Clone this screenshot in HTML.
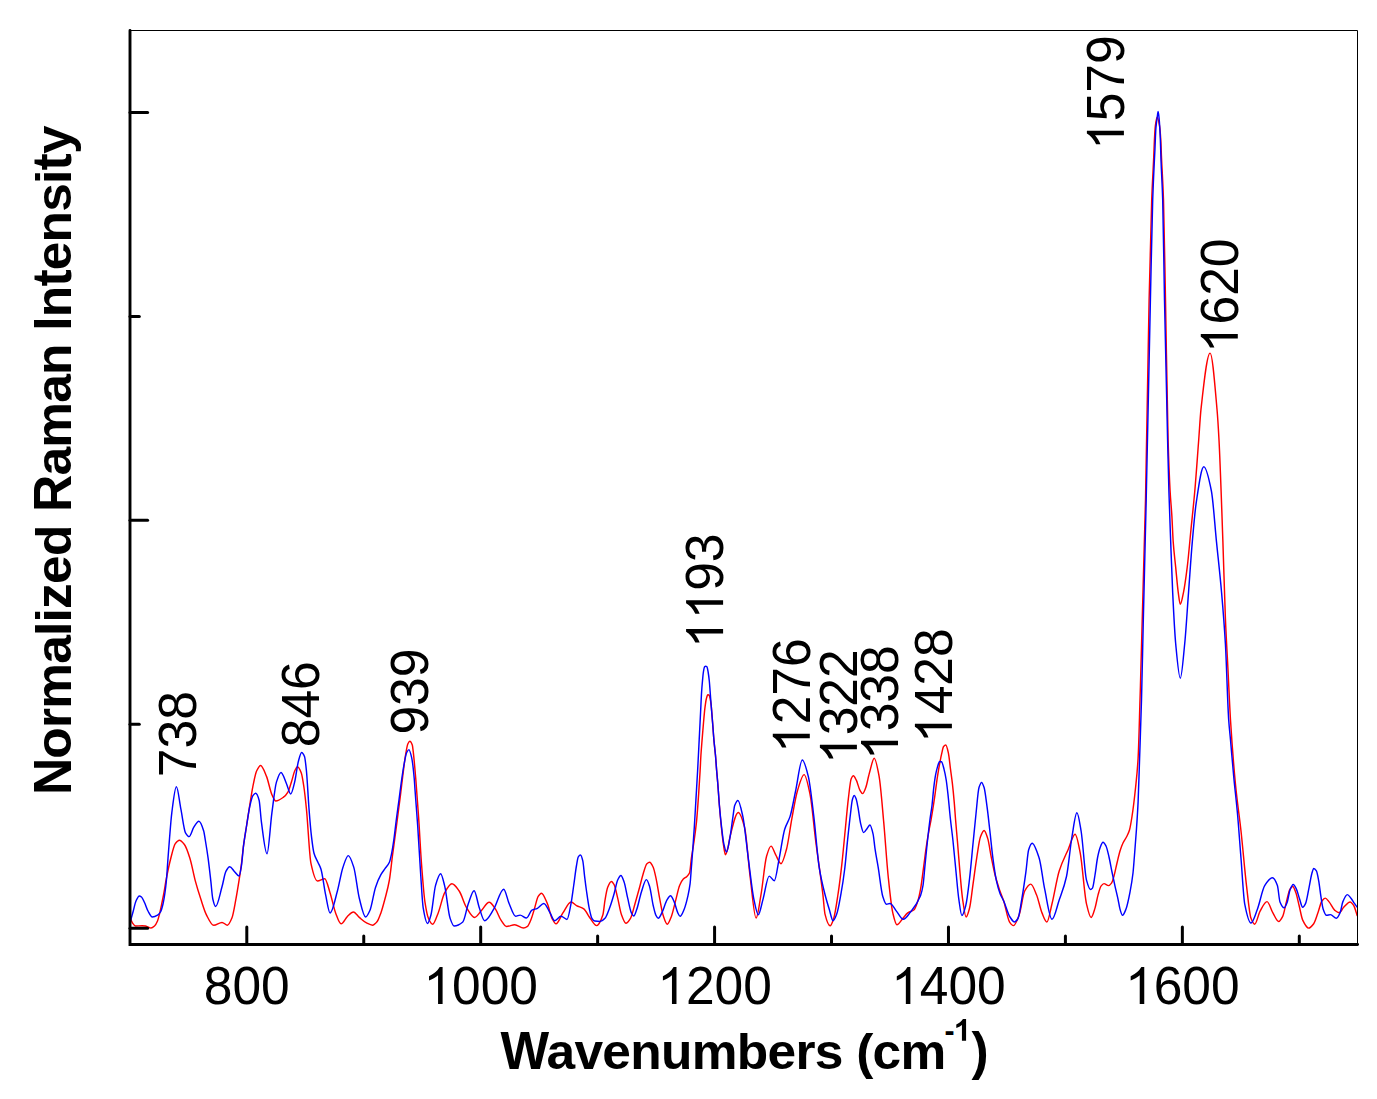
<!DOCTYPE html>
<html><head><meta charset="utf-8"><style>html,body{margin:0;padding:0;background:#fff;}svg{display:block;}</style></head>
<body>
<svg width="1377" height="1099" viewBox="0 0 1377 1099">
<rect width="1377" height="1099" fill="#fff"/>
<path d="M130.30 918.00C131.03 919.67 131.77 921.96 132.50 923.00C133.50 924.42 134.50 926.00 135.50 926.00C137.67 926.00 139.83 925.80 142.00 925.80C143.17 925.80 144.33 925.88 145.50 926.00C146.33 926.09 147.17 926.70 148.00 927.00C149.00 927.36 150.00 928.00 151.00 928.00C152.17 928.00 153.33 927.01 154.50 926.00C155.50 925.14 156.50 923.31 157.50 921.00C158.17 919.46 158.83 916.64 159.50 914.00C160.33 910.70 161.17 906.50 162.00 902.50C162.67 899.30 163.33 896.14 164.00 892.50C164.67 888.86 165.33 884.05 166.00 880.50C167.60 871.97 169.20 864.30 170.80 858.20C172.30 852.48 173.80 845.56 175.30 843.60C176.67 841.81 178.03 840.20 179.40 840.20C181.07 840.20 182.73 842.39 184.40 844.50C186.23 846.83 188.07 852.46 189.90 858.20C191.70 863.84 193.50 874.23 195.30 880.90C197.13 887.69 198.97 893.52 200.80 899.10C202.63 904.68 204.47 911.04 206.30 914.60C208.77 919.39 211.23 925.30 213.70 925.30C216.47 925.30 219.23 922.40 222.00 922.40C223.80 922.40 225.60 925.20 227.40 925.20C228.93 925.20 230.47 921.54 232.00 917.80C233.30 914.63 234.60 906.12 235.90 899.20C236.93 893.70 237.97 887.26 239.00 880.70C239.77 875.83 240.53 871.03 241.30 865.20C242.07 859.37 242.83 850.85 243.60 845.10C244.63 837.35 245.67 831.70 246.70 825.00C247.73 818.30 248.77 811.34 249.80 804.90C250.83 798.46 251.87 791.35 252.90 786.30C254.17 780.11 255.43 773.42 256.70 770.80C258.00 768.11 259.30 765.40 260.60 765.40C262.57 765.40 264.53 771.66 266.50 776.40C268.30 780.74 270.10 790.70 271.90 794.60C273.20 797.42 274.50 801.00 275.80 801.00C278.37 801.00 280.93 799.04 283.50 797.20C284.97 796.15 286.43 794.56 287.90 792.10C289.20 789.92 290.50 784.73 291.80 780.70C292.83 777.49 293.87 772.57 294.90 770.50C295.77 768.77 296.63 766.70 297.50 766.70C298.77 766.70 300.03 769.68 301.30 773.00C302.17 775.27 303.03 781.23 303.90 787.00C304.73 792.55 305.57 800.45 306.40 808.70C307.93 823.88 309.47 856.70 311.00 863.70C313.13 873.44 315.27 881.00 317.40 881.00C319.83 881.00 322.27 878.70 324.70 878.70C326.50 878.70 328.30 887.41 330.10 892.90C331.93 898.49 333.77 908.20 335.60 912.90C337.43 917.60 339.27 923.80 341.10 923.80C343.20 923.80 345.30 918.41 347.40 916.50C349.40 914.68 351.40 912.00 353.40 912.00C355.37 912.00 357.33 915.76 359.30 917.40C361.70 919.40 364.10 921.69 366.50 922.90C368.50 923.91 370.50 925.20 372.50 925.20C374.00 925.20 375.50 923.52 377.00 921.80C378.30 920.31 379.60 916.46 380.90 912.90C382.27 909.16 383.63 904.00 385.00 898.80C386.47 893.22 387.93 888.28 389.40 880.00C390.47 873.98 391.53 862.73 392.60 854.60C393.47 848.00 394.33 841.99 395.20 835.50C396.03 829.26 396.87 822.77 397.70 816.40C398.53 810.03 399.37 803.93 400.20 797.30C401.07 790.40 401.93 782.60 402.80 775.70C403.63 769.07 404.47 761.60 405.30 756.60C406.17 751.40 407.03 745.55 407.90 743.80C408.53 742.52 409.17 741.30 409.80 741.30C410.63 741.30 411.47 742.79 412.30 745.10C412.60 745.93 412.90 748.94 413.20 751.40C414.10 758.78 415.00 769.72 415.90 780.50C416.80 791.28 417.70 803.64 418.60 816.90C419.53 830.65 420.47 849.98 421.40 862.40C422.60 878.36 423.80 894.61 425.00 902.40C426.17 909.98 427.33 915.94 428.50 918.50C429.87 921.50 431.23 924.30 432.60 924.30C434.47 924.30 436.33 917.48 438.20 912.90C440.33 907.67 442.47 896.74 444.60 892.90C447.03 888.52 449.47 883.80 451.90 883.80C454.33 883.80 456.77 887.65 459.20 891.00C461.60 894.31 464.00 903.56 466.40 907.40C469.13 911.77 471.87 917.40 474.60 917.40C476.73 917.40 478.87 913.29 481.00 911.10C483.73 908.30 486.47 902.30 489.20 902.30C491.30 902.30 493.40 906.21 495.50 909.20C497.33 911.81 499.17 917.53 501.00 920.20C502.83 922.87 504.67 926.50 506.50 926.50C509.23 926.50 511.97 924.70 514.70 924.70C517.63 924.70 520.57 928.00 523.50 928.00C524.83 928.00 526.17 927.24 527.50 926.30C528.73 925.43 529.97 922.01 531.20 919.00C532.33 916.23 533.47 911.86 534.60 908.20C535.80 904.33 537.00 898.22 538.20 896.40C539.27 894.78 540.33 893.20 541.40 893.20C543.40 893.20 545.40 899.21 547.40 903.80C548.93 907.32 550.47 915.39 552.00 918.30C553.33 920.83 554.67 923.80 556.00 923.80C558.30 923.80 560.60 916.23 562.90 912.90C565.63 908.94 568.37 902.00 571.10 902.00C572.90 902.00 574.70 904.62 576.50 905.60C578.93 906.92 581.37 907.20 583.80 908.90C585.93 910.39 588.07 915.54 590.20 918.30C592.30 921.02 594.40 925.60 596.50 925.60C598.63 925.60 600.77 921.20 602.90 914.70C603.60 912.57 604.30 904.08 605.00 900.10C605.90 894.99 606.80 889.50 607.70 887.30C608.93 884.28 610.17 881.40 611.40 881.40C612.30 881.40 613.20 883.02 614.10 884.60C615.30 886.71 616.50 893.31 617.70 898.20C618.93 903.23 620.17 911.24 621.40 914.60C622.90 918.69 624.40 923.30 625.90 923.30C627.43 923.30 628.97 920.80 630.50 918.30C632.00 915.85 633.50 908.80 635.00 903.70C636.53 898.49 638.07 892.93 639.60 887.30C640.80 882.89 642.00 877.48 643.20 873.70C644.43 869.81 645.67 864.74 646.90 863.70C647.80 862.94 648.70 862.30 649.60 862.30C650.80 862.30 652.00 864.79 653.20 867.30C654.13 869.25 655.07 873.96 656.00 878.20C657.20 883.65 658.40 892.02 659.60 898.20C660.80 904.38 662.00 911.94 663.20 915.50C664.57 919.56 665.93 924.20 667.30 924.20C668.67 924.20 670.03 919.83 671.40 916.40C672.93 912.55 674.47 904.88 676.00 899.10C677.20 894.58 678.40 888.35 679.60 885.50C680.83 882.57 682.07 880.39 683.30 879.10C684.50 877.85 685.70 877.57 686.90 876.40C687.80 875.52 688.70 874.96 689.60 872.80C690.20 871.36 690.80 862.50 691.40 858.20C692.13 852.95 692.87 849.29 693.60 844.20C694.57 837.50 695.53 831.37 696.50 821.90C697.20 815.04 697.90 804.62 698.60 794.60C699.10 787.44 699.60 779.77 700.10 771.00C700.37 766.32 700.63 759.74 700.90 755.50C701.27 749.67 701.63 745.55 702.00 740.90C702.50 734.56 703.00 728.39 703.50 722.80C703.97 717.58 704.43 711.96 704.90 708.20C705.37 704.44 705.83 700.84 706.30 699.00C706.80 697.03 707.30 694.80 707.80 694.80C708.20 694.80 708.60 694.87 709.00 695.00C709.40 695.13 709.80 697.24 710.20 699.00C710.50 700.32 710.80 702.20 711.10 704.60C711.60 708.61 712.10 716.54 712.60 722.80C713.07 728.64 713.53 735.71 714.00 740.90C714.50 746.46 715.00 749.86 715.50 755.50C715.87 759.64 716.23 765.51 716.60 770.00C717.00 774.90 717.40 778.75 717.80 783.70C718.33 790.30 718.87 799.00 719.40 805.50C720.07 813.63 720.73 821.06 721.40 827.40C722.10 834.05 722.80 840.58 723.50 845.00C724.13 849.00 724.77 854.70 725.40 854.70C726.27 854.70 727.13 850.67 728.00 847.50C728.70 844.94 729.40 839.29 730.10 836.50C732.83 825.60 735.57 812.40 738.30 812.40C740.40 812.40 742.50 819.40 744.60 827.40C746.43 834.38 748.27 862.18 750.10 876.50C752.10 892.12 754.10 918.00 756.10 918.00C757.73 918.00 759.37 903.89 761.00 894.70C762.83 884.39 764.67 862.75 766.50 856.50C768.00 851.38 769.50 846.10 771.00 846.10C772.53 846.10 774.07 851.89 775.60 854.60C777.40 857.78 779.20 863.70 781.00 863.70C782.83 863.70 784.67 855.83 786.50 849.20C788.30 842.70 790.10 827.87 791.90 818.30C793.73 808.55 795.57 797.08 797.40 791.00C799.63 783.60 801.87 774.60 804.10 774.60C806.10 774.60 808.10 785.04 810.10 794.60C811.93 803.37 813.77 825.66 815.60 840.10C818.03 859.26 820.47 874.19 822.90 894.70C823.60 900.60 824.30 911.29 825.00 914.10C826.70 920.92 828.40 925.80 830.10 925.80C831.30 925.80 832.50 922.02 833.70 918.50C835.17 914.19 836.63 903.38 838.10 893.70C839.33 885.56 840.57 875.52 841.80 864.60C843.00 853.98 844.20 840.29 845.40 828.20C846.37 818.46 847.33 807.10 848.30 799.10C849.27 791.10 850.23 780.78 851.20 778.70C851.93 777.12 852.67 775.80 853.40 775.80C854.37 775.80 855.33 778.33 856.30 780.20C857.53 782.59 858.77 788.35 860.00 790.40C860.87 791.84 861.73 793.60 862.60 793.60C863.67 793.60 864.73 790.28 865.80 787.50C866.77 784.98 867.73 779.61 868.70 775.80C869.20 773.83 869.70 771.71 870.20 770.00C871.53 765.44 872.87 758.20 874.20 758.20C875.83 758.20 877.47 767.54 879.10 776.40C880.63 784.72 882.17 805.18 883.70 821.90C885.20 838.25 886.70 862.12 888.20 876.50C889.73 891.20 891.27 906.49 892.80 912.90C894.17 918.62 895.53 924.70 896.90 924.70C898.80 924.70 900.70 920.78 902.60 918.70C904.30 916.84 906.00 914.10 907.70 912.90C909.83 911.40 911.97 911.56 914.10 909.70C915.37 908.60 916.63 904.74 917.90 900.80C918.77 898.10 919.63 894.08 920.50 889.40C921.57 883.64 922.63 874.31 923.70 866.40C924.53 860.22 925.37 852.91 926.20 847.30C927.27 840.12 928.33 834.03 929.40 828.20C929.93 825.28 930.47 822.96 931.00 820.00C932.17 813.52 933.33 806.04 934.50 798.20C935.50 791.48 936.50 782.85 937.50 776.40C938.33 771.02 939.17 766.19 940.00 761.80C940.60 758.64 941.20 755.60 941.80 753.10C942.40 750.60 943.00 747.24 943.60 746.50C944.33 745.59 945.07 744.90 945.80 744.90C946.67 744.90 947.53 749.18 948.40 753.10C949.10 756.27 949.80 763.74 950.50 769.10C951.13 773.95 951.77 778.16 952.40 783.70C953.00 788.95 953.60 795.06 954.20 801.90C954.67 807.22 955.13 814.26 955.60 820.00C956.20 827.37 956.80 833.85 957.40 841.00C958.27 851.34 959.13 863.17 960.00 872.80C960.83 882.06 961.67 892.45 962.50 898.30C963.70 906.72 964.90 917.00 966.10 917.00C967.23 917.00 968.37 912.51 969.50 908.30C970.70 903.85 971.90 891.98 973.10 883.60C974.33 874.99 975.57 865.05 976.80 857.30C978.00 849.76 979.20 840.26 980.40 837.00C981.63 833.65 982.87 830.40 984.10 830.40C985.30 830.40 986.50 834.65 987.70 838.40C988.90 842.15 990.10 851.33 991.30 857.30C992.53 863.44 993.77 869.97 995.00 874.80C996.47 880.55 997.93 885.04 999.40 889.40C1000.83 893.66 1002.27 896.62 1003.70 901.00C1005.67 907.00 1007.63 919.34 1009.60 922.10C1010.87 923.88 1012.13 925.60 1013.40 925.60C1015.33 925.60 1017.27 919.78 1019.20 914.70C1021.03 909.89 1022.87 894.36 1024.70 891.00C1026.70 887.34 1028.70 884.10 1030.70 884.10C1032.63 884.10 1034.57 890.14 1036.50 894.70C1038.33 899.03 1040.17 908.56 1042.00 912.90C1043.63 916.76 1045.27 922.00 1046.90 922.00C1048.60 922.00 1050.30 910.56 1052.00 903.80C1054.40 894.26 1056.80 878.63 1059.20 871.00C1062.23 861.36 1065.27 856.13 1068.30 849.20C1070.57 844.02 1072.83 834.30 1075.10 834.30C1076.80 834.30 1078.50 844.40 1080.20 852.80C1082.30 863.18 1084.40 894.87 1086.50 903.80C1088.03 910.32 1089.57 917.50 1091.10 917.50C1092.40 917.50 1093.70 912.18 1095.00 908.10C1096.00 904.96 1097.00 898.65 1098.00 895.10C1099.00 891.55 1100.00 887.40 1101.00 886.10C1102.00 884.80 1103.00 883.60 1104.00 883.60C1105.50 883.60 1107.00 885.60 1108.50 885.60C1109.50 885.60 1110.50 884.41 1111.50 883.10C1112.33 882.01 1113.17 878.84 1114.00 876.00C1115.00 872.59 1116.00 867.16 1117.00 863.00C1118.00 858.84 1119.00 854.20 1120.00 851.00C1121.00 847.80 1122.00 845.13 1123.00 843.00C1124.33 840.15 1125.67 838.73 1127.00 836.00C1127.83 834.29 1128.67 832.77 1129.50 830.00C1130.33 827.23 1131.17 821.84 1132.00 816.50C1133.20 808.81 1134.40 798.90 1135.60 787.30C1136.43 779.25 1137.27 772.55 1138.10 758.20C1138.73 747.29 1139.37 720.77 1140.00 700.00C1141.83 639.87 1143.67 581.77 1145.50 500.00C1146.70 446.47 1147.90 354.02 1149.10 300.00C1149.97 260.99 1150.83 223.39 1151.70 200.00C1152.37 182.00 1153.03 172.96 1153.70 157.60C1153.93 152.23 1154.17 144.76 1154.40 140.40C1154.73 134.18 1155.07 128.28 1155.40 125.70C1155.97 121.32 1156.53 117.30 1157.10 117.30C1157.90 117.30 1158.70 121.19 1159.50 125.70C1159.93 128.14 1160.37 133.43 1160.80 140.40C1161.03 144.15 1161.27 152.23 1161.50 157.60C1162.17 172.96 1162.83 180.15 1163.50 200.00C1164.17 219.85 1164.83 265.49 1165.50 300.00C1166.37 344.87 1167.23 410.46 1168.10 440.00C1168.77 462.72 1169.43 478.95 1170.10 491.00C1170.70 501.85 1171.30 506.46 1171.90 516.40C1172.33 523.58 1172.77 535.88 1173.20 541.90C1174.03 553.47 1174.87 559.07 1175.70 567.40C1176.57 576.07 1177.43 586.72 1178.30 592.90C1178.97 597.65 1179.63 604.30 1180.30 604.30C1181.33 604.30 1182.37 597.76 1183.40 592.90C1184.67 586.94 1185.93 577.59 1187.20 567.40C1188.47 557.21 1189.73 541.93 1191.00 529.20C1192.27 516.47 1193.53 505.39 1194.80 491.00C1196.10 476.23 1197.40 457.22 1198.70 440.00C1199.47 429.84 1200.23 416.19 1201.00 409.20C1204.03 381.56 1207.07 353.10 1210.10 353.10C1212.40 353.10 1214.70 383.25 1217.00 409.20C1217.67 416.72 1218.33 427.43 1219.00 440.00C1220.30 464.51 1221.60 505.07 1222.90 541.90C1223.73 565.51 1224.57 598.19 1225.40 618.30C1226.27 639.21 1227.13 652.72 1228.00 670.00C1228.83 686.62 1229.67 706.63 1230.50 720.00C1232.20 747.27 1233.90 768.17 1235.60 785.50C1237.40 803.85 1239.20 814.60 1241.00 831.00C1242.83 847.71 1244.67 870.30 1246.50 885.60C1248.00 898.12 1249.50 914.46 1251.00 918.30C1252.23 921.46 1253.47 924.20 1254.70 924.20C1256.50 924.20 1258.30 914.30 1260.10 911.10C1262.40 907.01 1264.70 901.60 1267.00 901.60C1268.97 901.60 1270.93 909.61 1272.90 912.90C1274.83 916.13 1276.77 921.50 1278.70 921.50C1280.03 921.50 1281.37 918.98 1282.70 916.40C1283.93 914.01 1285.17 906.50 1286.40 901.90C1287.60 897.43 1288.80 890.92 1290.00 889.10C1290.90 887.73 1291.80 886.40 1292.70 886.40C1293.77 886.40 1294.83 889.96 1295.90 892.80C1296.97 895.64 1298.03 901.22 1299.10 905.50C1300.30 910.31 1301.50 917.59 1302.70 920.10C1304.70 924.29 1306.70 928.10 1308.70 928.10C1310.37 928.10 1312.03 925.92 1313.70 923.70C1315.20 921.71 1316.70 916.07 1318.20 911.90C1319.43 908.47 1320.67 902.65 1321.90 901.00C1323.00 899.53 1324.10 898.10 1325.20 898.10C1326.50 898.10 1327.80 900.39 1329.10 901.90C1330.93 904.04 1332.77 908.55 1334.60 910.10C1336.10 911.37 1337.60 912.80 1339.10 912.80C1340.63 912.80 1342.17 908.83 1343.70 907.30C1345.83 905.17 1347.97 901.90 1350.10 901.90C1351.30 901.90 1352.50 903.71 1353.70 905.50C1354.90 907.29 1356.10 912.50 1357.30 916.00" fill="none" stroke="#ff0000" stroke-width="1.45" stroke-linejoin="round"/>
<path d="M130.30 921.50C131.20 918.33 132.10 915.23 133.00 912.00C134.00 908.41 135.00 903.19 136.00 901.00C137.10 898.59 138.20 895.90 139.30 895.90C140.03 895.90 140.77 896.44 141.50 897.00C142.50 897.76 143.50 900.42 144.50 902.50C145.67 904.93 146.83 908.91 148.00 911.00C149.43 913.56 150.87 917.00 152.30 917.00C154.20 917.00 156.10 915.96 158.00 914.80C158.83 914.29 159.67 913.38 160.50 912.00C161.33 910.62 162.17 907.46 163.00 904.00C163.67 901.23 164.33 897.14 165.00 892.50C165.47 889.25 165.93 885.43 166.40 880.50C166.93 874.87 167.47 865.37 168.00 858.20C168.47 851.93 168.93 845.69 169.40 840.00C170.20 830.25 171.00 819.07 171.80 812.80C173.33 800.79 174.87 786.70 176.40 786.70C177.90 786.70 179.40 801.60 180.90 809.20C182.43 816.97 183.97 830.19 185.50 832.80C186.70 834.85 187.90 836.60 189.10 836.60C190.63 836.60 192.17 829.68 193.70 827.40C195.43 824.82 197.17 821.30 198.90 821.30C200.50 821.30 202.10 825.84 203.70 831.00C204.23 832.72 204.77 836.80 205.30 840.00C206.23 845.59 207.17 851.35 208.10 858.20C209.00 864.80 209.90 873.04 210.80 880.90C211.47 886.72 212.13 896.16 212.80 899.00C213.73 902.98 214.67 906.50 215.60 906.50C217.73 906.50 219.87 894.25 222.00 886.80C223.30 882.26 224.60 873.84 225.90 871.40C227.17 869.02 228.43 866.70 229.70 866.70C231.27 866.70 232.83 869.83 234.40 871.40C235.93 872.93 237.47 876.00 239.00 876.00C239.77 876.00 240.53 871.03 241.30 866.70C242.07 862.37 242.83 851.04 243.60 845.10C244.63 837.10 245.67 831.44 246.70 825.00C247.73 818.56 248.77 810.96 249.80 806.40C250.83 801.84 251.87 796.96 252.90 795.60C253.83 794.37 254.77 793.30 255.70 793.30C256.83 793.30 257.97 796.25 259.10 800.20C259.87 802.87 260.63 816.27 261.40 821.90C263.27 835.61 265.13 853.70 267.00 853.70C268.63 853.70 270.27 824.94 271.90 812.80C273.43 801.40 274.97 786.82 276.50 781.90C278.00 777.09 279.50 772.40 281.00 772.40C282.83 772.40 284.67 779.58 286.50 783.70C287.90 786.84 289.30 794.00 290.70 794.00C292.03 794.00 293.37 787.16 294.70 781.90C295.90 777.17 297.10 766.31 298.30 761.80C299.40 757.67 300.50 752.40 301.60 752.40C302.57 752.40 303.53 754.09 304.50 756.50C305.13 758.08 305.77 764.39 306.40 770.50C307.27 778.86 308.13 797.69 309.00 808.70C309.83 819.28 310.67 829.75 311.50 836.70C312.33 843.65 313.17 850.36 314.00 853.30C315.30 857.88 316.60 859.25 317.90 862.20C318.93 864.55 319.97 865.97 321.00 869.20C322.53 873.99 324.07 887.53 325.60 894.70C327.10 901.71 328.60 912.90 330.10 912.90C332.53 912.90 334.97 899.66 337.40 891.00C339.23 884.47 341.07 872.70 342.90 867.40C344.70 862.19 346.50 855.60 348.30 855.60C350.13 855.60 351.97 861.71 353.80 867.40C355.63 873.09 357.47 891.15 359.30 898.30C361.40 906.49 363.50 916.90 365.60 916.90C367.07 916.90 368.53 913.41 370.00 910.20C371.83 906.19 373.67 892.90 375.50 887.40C377.30 882.00 379.10 877.91 380.90 874.70C382.27 872.26 383.63 870.69 385.00 868.70C386.47 866.56 387.93 865.58 389.40 862.30C390.07 860.81 390.73 857.72 391.40 854.60C392.23 850.70 393.07 845.21 393.90 839.40C394.73 833.59 395.57 825.45 396.40 819.00C397.27 812.30 398.13 806.39 399.00 799.90C399.83 793.66 400.67 786.60 401.50 780.80C402.37 774.77 403.23 768.83 404.10 764.20C404.93 759.75 405.77 754.42 406.60 752.70C407.37 751.11 408.13 749.60 408.90 749.60C409.83 749.60 410.77 753.74 411.70 757.80C412.53 761.42 413.37 769.13 414.20 778.20C414.47 781.10 414.73 785.89 415.00 789.60C415.90 802.13 416.80 812.74 417.70 826.00C418.63 839.75 419.57 857.75 420.50 871.50C421.40 884.76 422.30 902.54 423.20 907.90C424.63 916.43 426.07 923.40 427.50 923.40C428.67 923.40 429.83 918.81 431.00 914.70C432.50 909.41 434.00 890.76 435.50 885.60C437.20 879.75 438.90 873.80 440.60 873.80C441.93 873.80 443.27 880.43 444.60 885.60C446.43 892.70 448.27 913.11 450.10 918.30C451.43 922.08 452.77 926.00 454.10 926.00C457.00 926.00 459.90 924.48 462.80 922.00C464.63 920.43 466.47 908.73 468.30 903.80C470.23 898.60 472.17 890.70 474.10 890.70C475.80 890.70 477.50 902.61 479.20 907.40C481.00 912.47 482.80 920.70 484.60 920.70C487.63 920.70 490.67 913.88 493.70 909.20C497.03 904.06 500.37 889.20 503.70 889.20C505.53 889.20 507.37 899.68 509.20 903.80C511.33 908.60 513.47 916.20 515.60 916.20C517.10 916.20 518.60 915.10 520.10 915.10C522.23 915.10 524.37 918.00 526.50 918.00C528.30 918.00 530.10 911.21 531.90 910.20C533.73 909.18 535.57 909.16 537.40 908.30C539.53 907.29 541.67 903.40 543.80 903.40C545.90 903.40 548.00 909.54 550.10 912.90C551.63 915.36 553.17 920.70 554.70 920.70C556.80 920.70 558.90 916.20 561.00 916.20C563.00 916.20 565.00 919.40 567.00 919.40C568.33 919.40 569.67 910.43 571.00 903.70C571.90 899.16 572.80 891.74 573.70 885.50C574.63 879.03 575.57 870.81 576.50 865.50C577.10 862.09 577.70 857.66 578.30 856.80C579.03 855.75 579.77 855.00 580.50 855.00C581.27 855.00 582.03 857.80 582.80 860.90C583.40 863.33 584.00 871.52 584.60 876.40C585.23 881.55 585.87 886.56 586.50 891.00C587.40 897.30 588.30 903.96 589.20 908.20C590.10 912.44 591.00 916.92 591.90 918.30C592.83 919.74 593.77 920.86 594.70 921.00C596.50 921.27 598.30 921.40 600.10 921.40C601.73 921.40 603.37 919.93 605.00 918.30C606.50 916.81 608.00 912.13 609.50 908.20C611.03 904.18 612.57 899.01 614.10 893.70C615.30 889.55 616.50 882.44 617.70 880.00C618.77 877.83 619.83 875.50 620.90 875.50C621.97 875.50 623.03 878.96 624.10 881.90C625.30 885.20 626.50 893.14 627.70 898.20C628.93 903.40 630.17 910.35 631.40 912.80C632.17 914.32 632.93 916.00 633.70 916.00C634.73 916.00 635.77 912.02 636.80 909.20C638.33 905.02 639.87 896.47 641.40 891.90C643.07 886.93 644.73 879.60 646.40 879.60C647.47 879.60 648.53 883.19 649.60 886.40C650.80 890.01 652.00 900.42 653.20 905.50C654.13 909.45 655.07 913.78 656.00 915.50C656.73 916.85 657.47 918.30 658.20 918.30C659.57 918.30 660.93 914.54 662.30 911.90C663.83 908.94 665.37 902.60 666.90 900.10C668.10 898.14 669.30 895.70 670.50 895.70C671.73 895.70 672.97 899.24 674.20 901.90C675.40 904.49 676.60 910.43 677.80 912.80C678.57 914.32 679.33 916.30 680.10 916.30C681.47 916.30 682.83 912.41 684.20 909.20C685.40 906.38 686.60 901.67 687.80 896.40C688.57 893.03 689.33 889.81 690.10 883.70C690.53 880.25 690.97 872.85 691.40 867.30C691.87 861.33 692.33 855.49 692.80 849.10C693.30 842.26 693.80 835.22 694.30 827.40C694.83 819.06 695.37 809.21 695.90 800.10C696.47 790.42 697.03 781.38 697.60 771.00C697.87 766.12 698.13 760.72 698.40 755.50C698.77 748.32 699.13 740.98 699.50 733.70C699.87 726.42 700.23 719.08 700.60 711.80C700.93 705.18 701.27 697.13 701.60 692.00C701.87 687.90 702.13 684.77 702.40 681.80C702.73 678.09 703.07 674.03 703.40 672.00C703.80 669.57 704.20 667.18 704.60 666.80C704.97 666.45 705.33 666.20 705.70 666.20C706.10 666.20 706.50 666.44 706.90 666.80C707.33 667.18 707.77 670.06 708.20 672.50C708.57 674.57 708.93 677.45 709.30 681.00C709.57 683.58 709.83 687.53 710.10 691.00C710.43 695.34 710.77 700.31 711.10 704.60C711.60 711.04 712.10 716.54 712.60 722.80C713.07 728.64 713.53 735.71 714.00 740.90C714.50 746.46 715.00 749.86 715.50 755.50C715.87 759.64 716.23 765.51 716.60 770.00C717.00 774.90 717.40 778.75 717.80 783.70C718.33 790.30 718.87 799.31 719.40 805.50C720.13 814.01 720.87 821.17 721.60 827.40C722.33 833.63 723.07 840.50 723.80 843.70C724.70 847.63 725.60 851.90 726.50 851.90C727.60 851.90 728.70 843.97 729.80 838.30C730.87 832.81 731.93 823.44 733.00 816.40C733.57 812.66 734.13 807.04 734.70 805.50C735.77 802.60 736.83 800.40 737.90 800.40C739.53 800.40 741.17 808.99 742.80 816.40C744.63 824.72 746.47 844.53 748.30 858.30C750.10 871.82 751.90 889.72 753.70 898.30C755.23 905.61 756.77 914.70 758.30 914.70C759.80 914.70 761.30 905.30 762.80 900.10C764.93 892.71 767.07 876.10 769.20 876.10C770.90 876.10 772.60 880.70 774.30 880.70C775.93 880.70 777.57 866.30 779.20 858.30C781.03 849.32 782.87 835.20 784.70 829.20C786.50 823.31 788.30 822.03 790.10 816.40C791.93 810.66 793.77 799.47 795.60 791.00C797.83 780.68 800.07 760.00 802.30 760.00C804.30 760.00 806.30 768.40 808.30 776.40C810.13 783.73 811.97 801.33 813.80 816.40C815.60 831.20 817.40 856.10 819.20 867.40C821.13 879.54 823.07 886.84 825.00 894.50C826.47 900.31 827.93 905.06 829.40 909.80C830.60 913.68 831.80 920.70 833.00 920.70C834.23 920.70 835.47 917.26 836.70 914.10C838.13 910.43 839.57 901.68 841.00 893.70C842.23 886.83 843.47 878.97 844.70 869.00C845.67 861.19 846.63 849.09 847.60 839.90C848.57 830.71 849.53 821.63 850.50 813.70C851.10 808.78 851.70 802.18 852.30 800.00C852.93 797.70 853.57 795.50 854.20 795.50C854.80 795.50 855.40 797.05 856.00 798.50C856.60 799.95 857.20 803.39 857.80 806.40C858.77 811.25 859.73 820.03 860.70 823.90C861.67 827.77 862.63 832.60 863.60 832.60C864.83 832.60 866.07 829.69 867.30 828.20C868.17 827.15 869.03 825.00 869.90 825.00C870.97 825.00 872.03 829.50 873.10 834.10C873.73 836.83 874.37 844.35 875.00 848.60C876.07 855.76 877.13 860.92 878.20 867.40C879.73 876.72 881.27 891.65 882.80 896.50C884.00 900.30 885.20 904.30 886.40 904.30C887.60 904.30 888.80 903.40 890.00 903.40C892.13 903.40 894.27 908.55 896.40 911.10C898.70 913.85 901.00 919.30 903.30 919.30C905.63 919.30 907.97 915.15 910.30 912.30C913.70 908.15 917.10 904.36 920.50 895.70C921.33 893.58 922.17 890.43 923.00 885.50C923.63 881.75 924.27 872.77 924.90 866.40C925.53 860.03 926.17 853.28 926.80 847.30C927.83 837.55 928.87 827.94 929.90 820.00C930.60 814.62 931.30 811.27 932.00 805.50C932.60 800.55 933.20 792.22 933.80 787.30C934.40 782.38 935.00 778.04 935.60 774.90C936.23 771.58 936.87 768.93 937.50 766.90C938.20 764.66 938.90 761.50 939.60 761.50C940.23 761.50 940.87 761.62 941.50 761.80C942.33 762.04 943.17 766.02 944.00 769.10C944.73 771.81 945.47 775.45 946.20 780.00C946.80 783.72 947.40 789.21 948.00 794.60C948.77 801.49 949.53 810.87 950.30 818.00C951.20 826.37 952.10 832.64 953.00 841.00C954.03 850.60 955.07 862.44 956.10 872.80C956.97 881.49 957.83 892.22 958.70 898.30C959.77 905.78 960.83 915.50 961.90 915.50C963.20 915.50 964.50 910.35 965.80 905.40C967.03 900.70 968.27 889.48 969.50 879.20C970.70 869.20 971.90 854.89 973.10 842.80C974.07 833.06 975.03 822.73 976.00 813.70C977.00 804.36 978.00 790.66 979.00 787.50C979.87 784.76 980.73 782.40 981.60 782.40C982.43 782.40 983.27 784.94 984.10 787.50C985.07 790.47 986.03 799.26 987.00 806.40C987.97 813.54 988.93 822.62 989.90 831.10C990.87 839.58 991.83 849.97 992.80 857.30C994.00 866.40 995.20 875.10 996.40 880.60C997.63 886.25 998.87 890.52 1000.10 893.70C1001.30 896.79 1002.50 898.32 1003.70 901.00C1005.80 905.69 1007.90 913.82 1010.00 917.00C1011.50 919.27 1013.00 922.00 1014.50 922.00C1015.67 922.00 1016.83 920.43 1018.00 918.50C1019.27 916.40 1020.53 906.40 1021.80 899.10C1023.17 891.23 1024.53 881.94 1025.90 871.90C1026.80 865.29 1027.70 852.90 1028.60 850.00C1029.77 846.24 1030.93 843.20 1032.10 843.20C1034.47 843.20 1036.83 850.86 1039.20 858.30C1041.03 864.07 1042.87 880.42 1044.70 889.20C1047.13 900.86 1049.57 919.30 1052.00 919.30C1054.40 919.30 1056.80 907.11 1059.20 900.10C1061.63 892.99 1064.07 887.59 1066.50 876.50C1068.33 868.14 1070.17 847.11 1072.00 836.50C1073.63 827.05 1075.27 812.80 1076.90 812.80C1078.30 812.80 1079.70 822.90 1081.10 831.00C1082.90 841.41 1084.70 873.57 1086.50 880.10C1087.83 884.94 1089.17 889.50 1090.50 889.50C1091.17 889.50 1091.83 888.90 1092.50 888.10C1093.33 887.10 1094.17 879.93 1095.00 875.00C1095.83 870.07 1096.67 862.20 1097.50 858.00C1098.33 853.80 1099.17 850.20 1100.00 848.00C1101.00 845.37 1102.00 842.20 1103.00 842.20C1104.00 842.20 1105.00 844.12 1106.00 846.00C1107.00 847.88 1108.00 852.77 1109.00 857.00C1110.00 861.23 1111.00 867.15 1112.00 872.00C1113.00 876.85 1114.00 881.59 1115.00 886.10C1116.00 890.61 1117.00 894.43 1118.00 899.10C1118.67 902.21 1119.33 906.86 1120.00 909.10C1120.83 911.90 1121.67 915.30 1122.50 915.30C1123.67 915.30 1124.83 911.99 1126.00 909.10C1127.33 905.80 1128.67 898.96 1130.00 892.10C1131.00 886.95 1132.00 881.61 1133.00 873.00C1133.50 868.69 1134.00 861.26 1134.50 855.00C1135.13 847.06 1135.77 839.30 1136.40 830.00C1136.97 821.68 1137.53 813.92 1138.10 801.90C1138.60 791.29 1139.10 773.12 1139.60 758.20C1140.23 739.30 1140.87 722.98 1141.50 700.00C1142.07 679.44 1142.63 649.35 1143.20 625.00C1144.20 582.03 1145.20 544.28 1146.20 500.00C1147.60 438.01 1149.00 363.36 1150.40 300.00C1151.17 265.31 1151.93 223.07 1152.70 200.00C1153.27 182.95 1153.83 171.92 1154.40 160.00C1154.57 156.49 1154.73 153.84 1154.90 150.20C1155.07 146.56 1155.23 141.54 1155.40 137.90C1155.57 134.26 1155.73 130.14 1155.90 128.10C1156.30 123.21 1156.70 121.28 1157.10 118.30C1157.43 115.81 1157.77 111.40 1158.10 111.40C1158.43 111.40 1158.77 115.16 1159.10 118.30C1159.33 120.50 1159.57 124.25 1159.80 128.10C1159.97 130.85 1160.13 133.88 1160.30 137.90C1160.43 141.12 1160.57 145.97 1160.70 150.20C1160.80 153.37 1160.90 157.16 1161.00 160.00C1161.57 176.11 1162.13 181.34 1162.70 200.00C1163.30 219.76 1163.90 269.83 1164.50 300.00C1165.53 351.96 1166.57 397.02 1167.60 440.00C1168.03 458.02 1168.47 476.63 1168.90 491.00C1169.50 510.89 1170.10 525.80 1170.70 541.90C1171.37 559.79 1172.03 579.13 1172.70 592.90C1173.70 613.55 1174.70 633.13 1175.70 643.80C1177.23 660.16 1178.77 678.20 1180.30 678.20C1181.77 678.20 1183.23 658.37 1184.70 643.80C1185.97 631.21 1187.23 609.88 1188.50 592.90C1189.77 575.92 1191.03 556.46 1192.30 541.90C1193.57 527.34 1194.83 512.26 1196.10 503.70C1198.67 486.35 1201.23 466.80 1203.80 466.80C1206.33 466.80 1208.87 478.34 1211.40 491.00C1213.10 499.50 1214.80 524.92 1216.50 541.90C1218.20 558.88 1219.90 573.29 1221.60 592.90C1222.87 607.51 1224.13 622.19 1225.40 643.80C1226.50 662.57 1227.60 704.04 1228.70 720.00C1229.30 728.70 1229.90 733.26 1230.50 740.00C1231.57 751.98 1232.63 765.13 1233.70 776.40C1234.93 789.44 1236.17 799.15 1237.40 812.80C1238.60 826.08 1239.80 843.34 1241.00 858.30C1242.23 873.68 1243.47 897.47 1244.70 903.80C1246.80 914.58 1248.90 922.90 1251.00 922.90C1253.13 922.90 1255.27 914.67 1257.40 909.20C1259.83 902.96 1262.27 889.34 1264.70 885.60C1267.30 881.61 1269.90 877.80 1272.50 877.80C1274.13 877.80 1275.77 881.18 1277.40 885.60C1278.27 887.94 1279.13 899.77 1280.00 901.90C1281.37 905.26 1282.73 907.80 1284.10 907.80C1285.17 907.80 1286.23 904.71 1287.30 901.90C1288.20 899.53 1289.10 892.28 1290.00 890.00C1291.07 887.29 1292.13 884.40 1293.20 884.40C1294.27 884.40 1295.33 886.97 1296.40 889.10C1297.47 891.23 1298.53 896.05 1299.60 899.10C1300.63 902.06 1301.67 907.30 1302.70 907.30C1303.63 907.30 1304.57 905.53 1305.50 903.70C1306.70 901.35 1307.90 893.05 1309.10 887.30C1310.00 882.98 1310.90 876.78 1311.80 873.70C1312.47 871.42 1313.13 868.40 1313.80 868.40C1314.67 868.40 1315.53 869.52 1316.40 870.90C1317.17 872.12 1317.93 876.77 1318.70 880.90C1319.43 884.85 1320.17 891.84 1320.90 896.40C1321.67 901.17 1322.43 906.96 1323.20 909.20C1324.27 912.31 1325.33 915.30 1326.40 915.30C1327.77 915.30 1329.13 914.60 1330.50 914.60C1332.47 914.60 1334.43 918.30 1336.40 918.30C1337.63 918.30 1338.87 915.55 1340.10 912.80C1341.00 910.80 1341.90 904.06 1342.80 901.90C1344.30 898.30 1345.80 894.60 1347.30 894.60C1348.53 894.60 1349.77 896.73 1351.00 898.20C1352.20 899.63 1353.40 902.00 1354.60 903.70C1355.50 904.98 1356.40 906.10 1357.30 907.30" fill="none" stroke="#0000ff" stroke-width="1.45" stroke-linejoin="round"/>
<path d="M130 30.5H1357.5V944.4" fill="none" stroke="#000" stroke-width="1"/>
<path d="M130 30.4V944.5H1357.6" fill="none" stroke="#000" stroke-width="2.9" stroke-linecap="round"/>
<line x1="130" y1="112.4" x2="147.6" y2="112.4" stroke="#000" stroke-width="3" stroke-linecap="round"/>
<line x1="130" y1="316.4" x2="139.3" y2="316.4" stroke="#000" stroke-width="3" stroke-linecap="round"/>
<line x1="130" y1="520.3" x2="147.6" y2="520.3" stroke="#000" stroke-width="3" stroke-linecap="round"/>
<line x1="130" y1="724.3" x2="139.3" y2="724.3" stroke="#000" stroke-width="3" stroke-linecap="round"/>
<line x1="130" y1="928.3" x2="147.6" y2="928.3" stroke="#000" stroke-width="3" stroke-linecap="round"/>
<line x1="246.80" y1="944.4" x2="246.80" y2="927.0" stroke="#000" stroke-width="3" stroke-linecap="round"/>
<line x1="363.75" y1="944.4" x2="363.75" y2="935.9" stroke="#000" stroke-width="3" stroke-linecap="round"/>
<line x1="480.69" y1="944.4" x2="480.69" y2="927.0" stroke="#000" stroke-width="3" stroke-linecap="round"/>
<line x1="597.64" y1="944.4" x2="597.64" y2="935.9" stroke="#000" stroke-width="3" stroke-linecap="round"/>
<line x1="714.58" y1="944.4" x2="714.58" y2="927.0" stroke="#000" stroke-width="3" stroke-linecap="round"/>
<line x1="831.52" y1="944.4" x2="831.52" y2="935.9" stroke="#000" stroke-width="3" stroke-linecap="round"/>
<line x1="948.47" y1="944.4" x2="948.47" y2="927.0" stroke="#000" stroke-width="3" stroke-linecap="round"/>
<line x1="1065.41" y1="944.4" x2="1065.41" y2="935.9" stroke="#000" stroke-width="3" stroke-linecap="round"/>
<line x1="1182.36" y1="944.4" x2="1182.36" y2="927.0" stroke="#000" stroke-width="3" stroke-linecap="round"/>
<line x1="1299.30" y1="944.4" x2="1299.30" y2="935.9" stroke="#000" stroke-width="3" stroke-linecap="round"/>
<g transform="translate(203.84 1004)"><text transform="scale(1 1.032)" font-family='"Liberation Sans", sans-serif' font-size="51.5">800</text></g>
<g transform="translate(423.41 1004)"><text transform="scale(1 1.032)" font-family='"Liberation Sans", sans-serif' font-size="51.5">&#8199;000</text><path transform="translate(0.000 0) scale(0.025146 -0.025146)" d="M763 0L583 0L583 1147Q518 1085 415 1024.5Q312 964 223 931L223 1105Q375 1176 482 1271.5Q589 1367 648 1472L763 1472Z"/></g>
<g transform="translate(657.30 1004)"><text transform="scale(1 1.032)" font-family='"Liberation Sans", sans-serif' font-size="51.5">&#8199;200</text><path transform="translate(0.000 0) scale(0.025146 -0.025146)" d="M763 0L583 0L583 1147Q518 1085 415 1024.5Q312 964 223 931L223 1105Q375 1176 482 1271.5Q589 1367 648 1472L763 1472Z"/></g>
<g transform="translate(891.18 1004)"><text transform="scale(1 1.032)" font-family='"Liberation Sans", sans-serif' font-size="51.5">&#8199;400</text><path transform="translate(0.000 0) scale(0.025146 -0.025146)" d="M763 0L583 0L583 1147Q518 1085 415 1024.5Q312 964 223 931L223 1105Q375 1176 482 1271.5Q589 1367 648 1472L763 1472Z"/></g>
<g transform="translate(1125.07 1004)"><text transform="scale(1 1.032)" font-family='"Liberation Sans", sans-serif' font-size="51.5">&#8199;600</text><path transform="translate(0.000 0) scale(0.025146 -0.025146)" d="M763 0L583 0L583 1147Q518 1085 415 1024.5Q312 964 223 931L223 1105Q375 1176 482 1271.5Q589 1367 648 1472L763 1472Z"/></g>
<g transform="translate(500.5 1068.7)"><text transform="scale(1 1.04)" x="0.00" font-family='"Liberation Sans", sans-serif' font-weight="bold" font-size="51.5">W</text><text transform="scale(1 0.98)" x="45.96 73.88 101.79 129.71 160.45 191.19 236.24 266.97 294.89 314.22 355.71 372.14 400.06" font-family='"Liberation Sans", sans-serif' font-weight="bold" font-size="51.5">avenumbers(cm</text></g>
<text transform="translate(944.5 1040.7) scale(1 1.032)" font-family='"Liberation Sans", sans-serif' font-weight="bold" font-size="30.3">-</text>
<g transform="translate(954.59 1040.7)"><path transform="translate(0.000 0) scale(0.014795 -0.014795)" d="M777 0L496 0L496 1056Q340 910 115 865L115 1102Q230 1140 370 1250Q510 1360 565 1467L777 1467Z"/></g>
<text transform="translate(971.6 1068.7) scale(1 0.99)" font-family='"Liberation Sans", sans-serif' font-weight="bold" font-size="51.5">)</text>
<g transform="translate(71 795) rotate(-90)"><text transform="scale(1 1.04)" x="0.00 283.05 464.25" font-family='"Liberation Sans", sans-serif' font-weight="bold" font-size="51.5">NRI</text><text transform="scale(1 1.07)" x="508.40 624.59" font-family='"Liberation Sans", sans-serif' font-weight="bold" font-size="51.5">tt</text><text transform="scale(1 0.98)" x="36.37 67.04 86.27 131.26 159.08 172.59 186.10 211.05 238.88 319.42 347.27 392.25 420.09 477.76 524.75 552.59 583.24 611.08 640.93" font-family='"Liberation Sans", sans-serif' font-weight="bold" font-size="51.5">ormalizedamannensiy</text></g>
<g transform="translate(195.8 777.14) rotate(-90)"><text transform="scale(1 1.032)" font-family='"Liberation Sans", sans-serif' font-size="51.5">738</text></g>
<g transform="translate(318.8 747.24) rotate(-90)"><text transform="scale(1 1.032)" font-family='"Liberation Sans", sans-serif' font-size="51.5">846</text></g>
<g transform="translate(428.4 734.61) rotate(-90)"><text transform="scale(1 1.032)" font-family='"Liberation Sans", sans-serif' font-size="51.5">939</text></g>
<g transform="translate(723.1 648.11) rotate(-90)"><text transform="scale(1 1.032)" font-family='"Liberation Sans", sans-serif' font-size="51.5">&#8199;&#8199;93</text><path transform="translate(0.000 0) scale(0.025146 -0.025146)" d="M763 0L583 0L583 1147Q518 1085 415 1024.5Q312 964 223 931L223 1105Q375 1176 482 1271.5Q589 1367 648 1472L763 1472Z"/><path transform="translate(28.642 0) scale(0.025146 -0.025146)" d="M763 0L583 0L583 1147Q518 1085 415 1024.5Q312 964 223 931L223 1105Q375 1176 482 1271.5Q589 1367 648 1472L763 1472Z"/></g>
<g transform="translate(809.8 753.01) rotate(-90)"><text transform="scale(1 1.032)" font-family='"Liberation Sans", sans-serif' font-size="51.5">&#8199;276</text><path transform="translate(0.000 0) scale(0.025146 -0.025146)" d="M763 0L583 0L583 1147Q518 1085 415 1024.5Q312 964 223 931L223 1105Q375 1176 482 1271.5Q589 1367 648 1472L763 1472Z"/></g>
<g transform="translate(856.9 764.01) rotate(-90)"><text transform="scale(1 1.032)" font-family='"Liberation Sans", sans-serif' font-size="51.5">&#8199;322</text><path transform="translate(0.000 0) scale(0.025146 -0.025146)" d="M763 0L583 0L583 1147Q518 1085 415 1024.5Q312 964 223 931L223 1105Q375 1176 482 1271.5Q589 1367 648 1472L763 1472Z"/></g>
<g transform="translate(898.0 760.01) rotate(-90)"><text transform="scale(1 1.032)" font-family='"Liberation Sans", sans-serif' font-size="51.5">&#8199;338</text><path transform="translate(0.000 0) scale(0.025146 -0.025146)" d="M763 0L583 0L583 1147Q518 1085 415 1024.5Q312 964 223 931L223 1105Q375 1176 482 1271.5Q589 1367 648 1472L763 1472Z"/></g>
<g transform="translate(951.9 743.01) rotate(-90)"><text transform="scale(1 1.032)" font-family='"Liberation Sans", sans-serif' font-size="51.5">&#8199;428</text><path transform="translate(0.000 0) scale(0.025146 -0.025146)" d="M763 0L583 0L583 1147Q518 1085 415 1024.5Q312 964 223 931L223 1105Q375 1176 482 1271.5Q589 1367 648 1472L763 1472Z"/></g>
<g transform="translate(1123.9 149.91) rotate(-90)"><text transform="scale(1 1.032)" font-family='"Liberation Sans", sans-serif' font-size="51.5">&#8199;579</text><path transform="translate(0.000 0) scale(0.025146 -0.025146)" d="M763 0L583 0L583 1147Q518 1085 415 1024.5Q312 964 223 931L223 1105Q375 1176 482 1271.5Q589 1367 648 1472L763 1472Z"/></g>
<g transform="translate(1237.8 353.11) rotate(-90)"><text transform="scale(1 1.032)" font-family='"Liberation Sans", sans-serif' font-size="51.5">&#8199;620</text><path transform="translate(0.000 0) scale(0.025146 -0.025146)" d="M763 0L583 0L583 1147Q518 1085 415 1024.5Q312 964 223 931L223 1105Q375 1176 482 1271.5Q589 1367 648 1472L763 1472Z"/></g>
</svg>
</body></html>
